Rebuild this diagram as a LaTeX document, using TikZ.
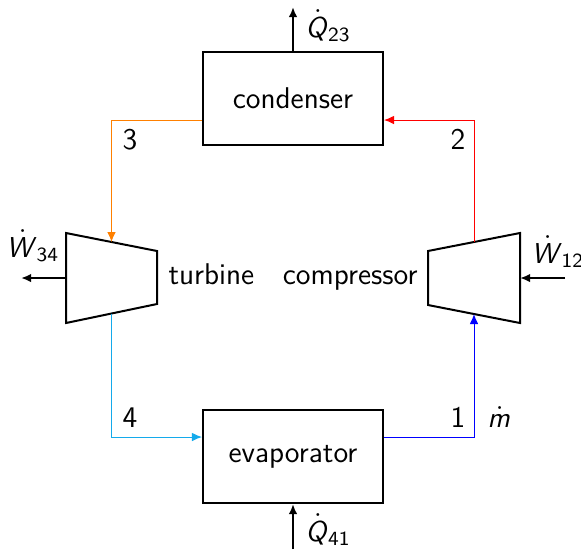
\documentclass[tikz,border=0pt]{standalone}
\usepackage{amsmath}
\usetikzlibrary{arrows.meta,calc}
\definecolor{flowor}{RGB}{255,128,0}
\definecolor{flowcy}{RGB}{20,170,235}
\definecolor{flowbl}{RGB}{0,0,255}
\definecolor{flowrd}{RGB}{255,0,0}
\newcommand{\dotsl}[1]{\ensuremath{\dot{\text{\textsl{#1}}\kern0.08em}\kern-0.08em}}
\begin{document}
\begin{tikzpicture}[x=0.4pt,y=-0.4pt,
  font=\fontsize{12}{14}\selectfont\sffamily,
  box/.style={draw, line width=0.8pt, minimum width=72pt, minimum height=37.2pt, inner sep=0pt},
  mach/.style={draw, line width=0.8pt, line join=miter},
  flow/.style={line width=0.4pt, -{Latex[length=4pt,width=3.4pt]}},
  work/.style={line width=0.8pt, -{Latex[length=4pt,width=3.4pt]}},
  lab/.style={inner sep=0pt, anchor=base west},
  qlab/.style={inner sep=0pt, anchor=base west, font=\fontsize{11.5}{14}\selectfont\sffamily}]
\useasboundingbox (0,0) rectangle (581,549);
% boxes
\node[box] (cond) at (293,98.5) {condenser};
\node[box] (evap) at (293,456.5) {evaporator};
% turbine
\coordinate (t1) at (66,233);
\coordinate (t2) at (157,251);
\coordinate (t3) at (157,304);
\coordinate (t4) at (66,323);
\draw[mach] (t1) -- (t2) -- (t3) -- (t4) -- cycle;
% compressor
\coordinate (c1) at (428,251);
\coordinate (c2) at (520,233);
\coordinate (c3) at (520,323);
\coordinate (c4) at (428,305);
\draw[mach] (c1) -- (c2) -- (c3) -- (c4) -- cycle;
\node[inner sep=0pt, anchor=base west] (tlab) at (168,284) {turbine};
\node[inner sep=0pt, anchor=base east] (clab) at (418,284) {compressor};
% ports
\coordinate (tin) at ($(t1)!0.5!(t2)$);
\coordinate (tout) at ($(t4)!0.5!(t3)$);
\coordinate (cout) at ($(c1)!0.5!(c2)$);
\coordinate (cin) at ($(c4)!0.5!(c3)$);
\coordinate (yup) at (0,120);
\coordinate (ydn) at (0,437);
% flows
\draw[flow, flowor] (cond.west |- yup) -| (tin);
\draw[flow, flowcy] (tout) |- (evap.west |- ydn);
\draw[flow, flowbl] (evap.east |- ydn) -| (cin);
\draw[flow, flowrd] (cout) |- (cond.east |- yup);
% heat and work
\coordinate (q23) at (293,7);
\coordinate (q41) at (293,549);
\coordinate (tw) at (66,278);
\coordinate (w34) at (21,278);
\coordinate (cw) at (520,278);
\coordinate (w12) at (565,278);
\draw[work] (cond) -- (q23);
\draw[work] (q41) -- (evap);
\draw[work] (tw) -- (w34);
\draw[work] (w12) -- (cw);
% labels
\node[lab] (l3) at (122,149) {3};
\node[lab] (l2) at (450,149) {2};
\node[lab] (l4) at (122,427) {4};
\node[lab] (l1) at (450,427) {1};
\node[qlab] (lm) at (487,427) {\dotsl{m}};
\node[qlab] (lq23) at (305,37) {$\dotsl{Q}_{\text{23}}$};
\node[qlab] (lq41) at (305,541) {$\dotsl{Q}_{\text{41}}$};
\node[qlab] (lw34) at (6,257) {$\dotsl{W}_{\text{34}}$};
\node[qlab] (lw12) at (531,263) {$\dotsl{W}_{\text{12}}$};
\end{tikzpicture}
\end{document}
